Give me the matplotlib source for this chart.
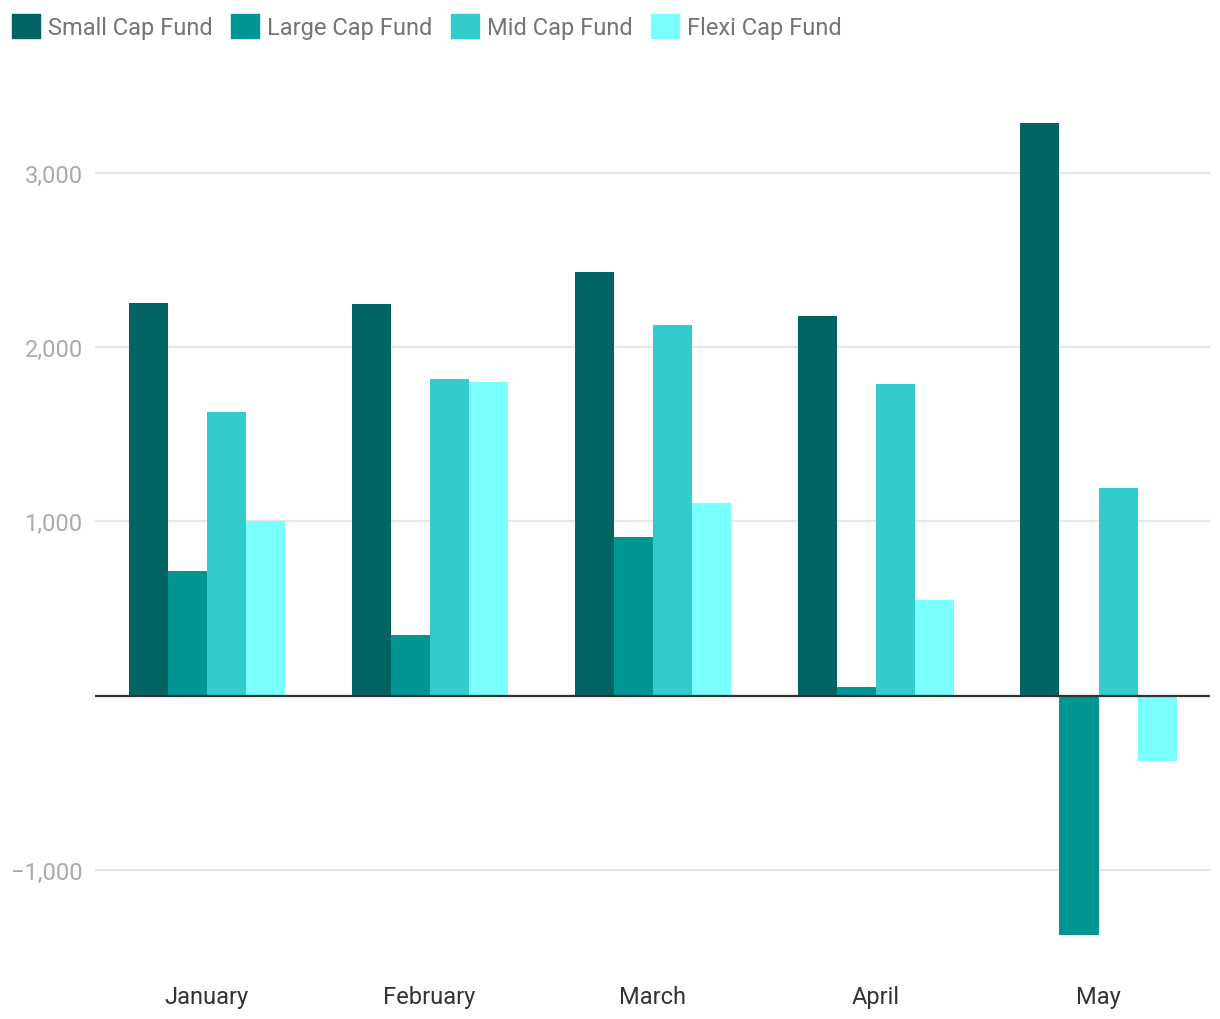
import numpy as np
import matplotlib.pyplot as plt
from matplotlib.ticker import FuncFormatter
from matplotlib.patches import Patch

plt.rcParams['font.family'] = ['Roboto', 'DejaVu Sans']

months = ['January', 'February', 'March', 'April', 'May']
small_cap = [2252, 2247, 2431, 2178, 3282]
large_cap = [713, 345, 908, 46, -1374]
mid_cap = [1626, 1816, 2126, 1787, 1190]
flexi_cap = [1000, 1799, 1103, 546, -374]

series = ['Small Cap Fund', 'Large Cap Fund', 'Mid Cap Fund', 'Flexi Cap Fund']
colors = ['#026462', '#009694', '#33cccc', '#7affff']

fig = plt.figure(figsize=(12.2, 10.2), dpi=100)
ax = fig.add_axes([0.078, 0.0608, 0.9138, 0.8545])

x = np.arange(len(months))
w = 0.175
for i, (vals, c) in enumerate(zip([small_cap, large_cap, mid_cap, flexi_cap], colors)):
    ax.bar(x + (i - 1.5) * w, vals, width=w, color=c, zorder=2, linewidth=0)

ax.set_xlim(-0.5, 4.5)
ax.set_ylim(-1500, 3500)
ax.set_yticks([-1000, 1000, 2000, 3000])
ax.yaxis.set_major_formatter(FuncFormatter(lambda v, p: f'{v:,.0f}'.replace('-', '\u2212')))
ax.grid(axis='y', color='#e6e6e6', linewidth=1.5, zorder=0)
ax.axhline(0, color='#333333', linewidth=1.6, zorder=3)

ax.set_xticks(x)
ax.set_xticklabels(months, fontsize=17, color='#333333')
ax.tick_params(axis='x', length=0, pad=20)
ax.tick_params(axis='y', length=0, pad=9, labelsize=17, labelcolor='#aaaaaa')
for s in ax.spines.values():
    s.set_visible(False)

handles = [Patch(color=c, label=s) for s, c in zip(series, colors)]
fig.legend(handles=handles, loc='upper left', bbox_to_anchor=(0.0, 0.997), ncol=4,
           frameon=False, fontsize=17, labelcolor='#757575',
           handlelength=1.2, handleheight=1.2, handletextpad=0.35,
           columnspacing=0.75, borderaxespad=0.2, borderpad=0.3)

fig.savefig('out.png', dpi=100)
